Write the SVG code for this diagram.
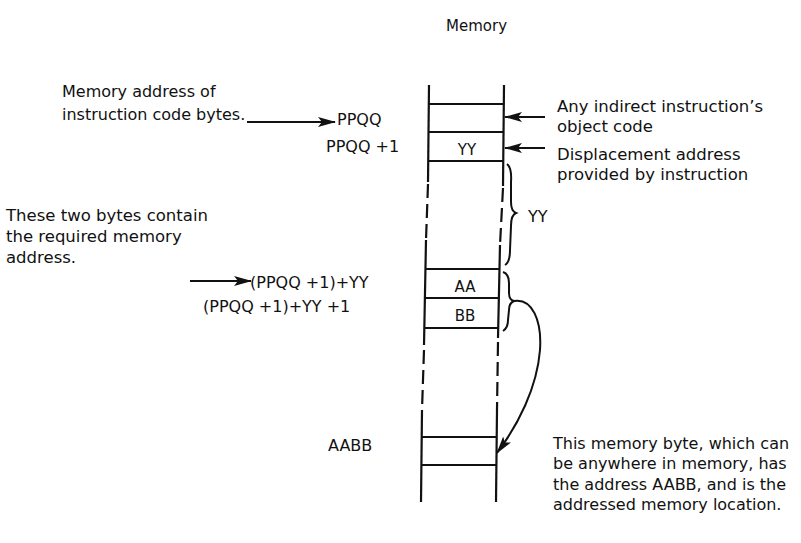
<svg xmlns="http://www.w3.org/2000/svg" width="801" height="543" viewBox="0 0 801 543">
<defs>
<style>
text{font-family:"DejaVu Sans","Liberation Sans",sans-serif;font-size:16px;fill:#111}
.t{font-size:15px}
.r{font-size:16.5px}
.c{text-anchor:middle;font-size:15px}
.ln{stroke:#111;stroke-width:2.2;fill:none}
.dl{stroke:#111;stroke-width:2.2;fill:none;stroke-dasharray:14 6}
.hl{stroke:#111;stroke-width:2.2}
.ar{stroke:#111;stroke-width:2;fill:none}
.br{stroke:#111;stroke-width:2;fill:none}
</style>
<marker id="ah" viewBox="0 0 18 10" refX="17" refY="5" markerWidth="18" markerHeight="10" markerUnits="userSpaceOnUse" orient="auto">
<path d="M0,0 L18,5 L0,10 L4,5 Z" fill="#111"/>
</marker>
</defs>
<rect width="801" height="543" fill="#fff"/>

<text id="title" class="t" x="446" y="31">Memory</text>

<g id="memory-column">
<path class="ln" d="M429,85 L428,182"/>
<path class="dl" d="M428,184 L426,240"/>
<path class="ln" d="M426,240 L424,345"/>
<path class="dl" d="M424,350 L422,410"/>
<path class="ln" d="M422,410 L421,502"/>
<path class="ln" d="M504,85 L503,186"/>
<path class="dl" d="M503,188 L500,245"/>
<path class="ln" d="M500,245 L498,338"/>
<path class="dl" d="M498,342 L497,410"/>
<path class="ln" d="M497,410 L496,502"/>
</g>

<g id="cell-ppqq"><line class="hl" x1="429" y1="104" x2="504" y2="104"/></g>
<g id="cell-ppqq1"><line class="hl" x1="429" y1="132" x2="504" y2="132"/><text class="c" x="467" y="155">YY</text></g>
<g id="cell-ppqq1-bottom"><line class="hl" x1="428" y1="161" x2="503" y2="161"/></g>
<g id="cell-aa"><line class="hl" x1="425" y1="269" x2="499" y2="269"/><text class="c" x="465" y="292">AA</text></g>
<g id="cell-bb"><line class="hl" x1="425" y1="298" x2="499" y2="298"/><text class="c" x="465" y="321">BB</text></g>
<g id="cell-bb-bottom"><line class="hl" x1="424" y1="328" x2="498" y2="328"/></g>
<g id="cell-aabb"><line class="hl" x1="421" y1="437" x2="497" y2="437"/><line class="hl" x1="421" y1="465" x2="497" y2="465"/></g>

<g id="label-instr">
<text x="62" y="97">Memory address of</text>
<text x="62" y="120">instruction code bytes.</text>
</g>
<g id="label-ppqq"><text x="337" y="125">PPQQ</text></g>
<g id="label-ppqq1"><text x="326" y="152">PPQQ +1</text></g>

<g id="label-indirect">
<text class="r" x="557" y="112">Any indirect instruction’s</text>
<text class="r" x="557" y="132">object code</text>
</g>
<g id="label-displacement">
<text class="r" x="557" y="160">Displacement address</text>
<text class="r" x="557" y="180">provided by instruction</text>
</g>
<g id="label-yy"><text x="528" y="222">YY</text></g>

<g id="label-twobytes">
<text class="r" x="6" y="221">These two bytes contain</text>
<text class="r" x="6" y="242">the required memory</text>
<text class="r" x="6" y="263">address.</text>
</g>
<g id="label-aa-addr"><text x="250" y="288">(PPQQ +1)+YY</text></g>
<g id="label-bb-addr"><text x="203" y="312">(PPQQ +1)+YY +1</text></g>
<g id="label-aabb"><text x="328" y="451">AABB</text></g>

<g id="label-byte">
<text x="553" y="449">This memory byte, which can</text>
<text x="553" y="469">be anywhere in memory, has</text>
<text x="553" y="490">the address AABB, and is the</text>
<text x="553" y="510">addressed memory location.</text>
</g>

<g id="connectors">
<line class="ar" x1="247" y1="122" x2="335" y2="122" marker-end="url(#ah)"/>
<line class="ar" x1="545" y1="117" x2="505" y2="117" marker-end="url(#ah)"/>
<line class="ar" x1="545" y1="148" x2="505" y2="148" marker-end="url(#ah)"/>
<line class="ar" x1="190" y1="281" x2="251" y2="281" marker-end="url(#ah)"/>
<path class="br" d="M507,164 Q512,168 511,182 L511,202 Q511,211 516,213 Q511,215 511,226 L510,250 Q510,262 505,265"/>
<path class="br" d="M503,272 Q509,274 509,283 L509,293 Q509,300 514,301 Q509,303 509,310 L508,320 Q508,328 503,331"/>
<path class="ar" d="M514,301 C532,298 542,320 540,350 C537,388 518,425 497,453" marker-end="url(#ah)"/>
</g>
</svg>
